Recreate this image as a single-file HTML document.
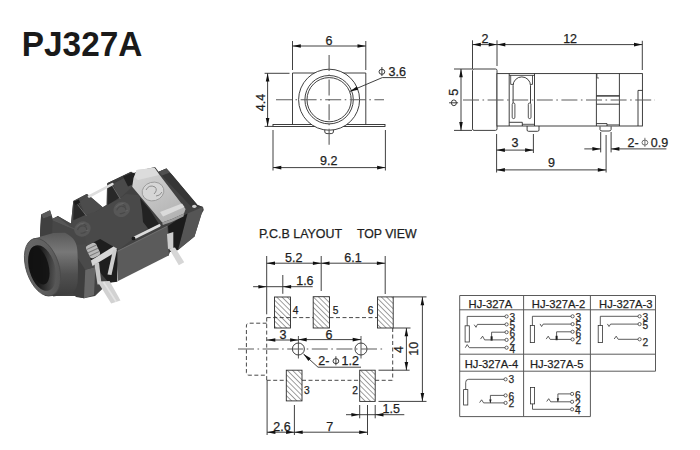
<!DOCTYPE html>
<html><head><meta charset="utf-8"><style>
html,body{margin:0;padding:0;background:#fff;}
body{width:700px;height:450px;overflow:hidden;}
svg{display:block;font-family:"Liberation Sans",sans-serif;}
</style></head><body>
<svg width="700" height="450" viewBox="0 0 700 450">
<defs>
<pattern id="hatch" patternUnits="userSpaceOnUse" width="3.7" height="3.7" patternTransform="rotate(-45)">
<line x1="0" y1="0" x2="0" y2="3.7" stroke="#2a2a2a" stroke-width="0.9"/>
</pattern>
<linearGradient id="metal" x1="0" y1="0" x2="0.6" y2="1"><stop offset="0" stop-color="#d6d6d6"/><stop offset="0.55" stop-color="#c4c4c4"/><stop offset="1" stop-color="#b4b4b4"/></linearGradient>
<linearGradient id="cyl" x1="0" y1="0" x2="0" y2="1"><stop offset="0" stop-color="#5a5a5a"/><stop offset="0.3" stop-color="#787878"/><stop offset="0.65" stop-color="#505050"/><stop offset="1" stop-color="#3c3c3c"/></linearGradient>
<linearGradient id="hole" x1="0" y1="0.2" x2="1" y2="0.8"><stop offset="0" stop-color="#0e0e0e"/><stop offset="0.4" stop-color="#181818"/><stop offset="0.75" stop-color="#404040"/><stop offset="1" stop-color="#606060"/></linearGradient>
<linearGradient id="rim" x1="0" y1="0" x2="1" y2="1"><stop offset="0" stop-color="#6a6a6a"/><stop offset="0.6" stop-color="#5e5e5e"/><stop offset="1" stop-color="#4e4e4e"/></linearGradient>
</defs>
<rect width="700" height="450" fill="#fff"/>
<polygon points="41.1,214.4 50.0,210.3 51.7,215.6 52.2,219.4 57.8,216.1 69.0,222.5 71.0,223.5 73.3,201.0 86.7,194.0 88.4,195.0 102.7,207.3 106.5,205.0 107.1,183.3 131.1,171.8 133.0,173.5 138.0,171.0 155.0,167.0 158.7,171.7 166.4,168.6 172.7,175.6 197.5,205.1 203.0,207.0 203.8,210.0 201.5,214.0 194.5,236.5 178.0,250.0 170.0,252.0 168.6,255.6 118.1,262.0 116.2,281.2 108.8,282.7 95.0,296.0 84.0,298.3 75.0,296.0 45.0,296.0 40.0,236.0" fill="#424242" />
<polygon points="52.2,219.4 57.8,216.1 69.0,222.5 71.0,223.5 75.1,219.8 83.1,212.7 95.0,212.0 102.7,207.3 106.5,205.0 107.1,204.7 118.7,199.3 126.0,194.0 138.3,195.0 148.4,213.8 145.5,216.0 149.9,223.2 150.0,226.0 116.7,251.3 101.0,244.0 92.0,246.0 86.0,250.0 70.0,247.0 60.0,238.0 52.0,232.0" fill="#494949" />
<polygon points="41.6,215.0 52.2,219.4 69.5,227.5 84.0,233.0 86.5,244.0 69.3,245.0 60.0,240.0 40.0,236.0" fill="#474747" />
<polygon points="52.7,218.3 57.7,216.7 69.3,226.1 69.5,227.5 52.2,219.4" fill="#565656" />
<line x1="42" y1="215.3" x2="84" y2="233" stroke="#585858" stroke-width="1.2"/>
<polygon points="41.1,214.4 50.0,210.3 51.7,215.6 43.3,218.6" fill="#5a5a5a" />
<polygon points="41.1,214.4 43.3,218.6 51.7,215.6 52.7,218.3 52.0,236.0 40.0,236.0" fill="#404040" />
<polygon points="73.3,201.0 86.7,194.0 88.4,195.0 79.5,201.5" fill="#4a4a4a" />
<polygon points="73.3,201.0 79.5,201.5 83.1,212.7 75.1,219.8 71.0,223.5" fill="#4a4a4a" />
<polygon points="79.5,201.5 88.4,195.0 102.7,207.3 95.0,212.0 85.3,215.0" fill="#4c4c4c" />
<polygon points="73.8,201.5 78.0,202.5 85.3,215.0 73.3,220.3" fill="#282828" />
<polygon points="73.9,201.6 78.8,199.6 80.2,202.6 75.2,205.0" fill="#1a1a1a" />
<line x1="77.6" y1="204.5" x2="86.5" y2="216" stroke="#686868" stroke-width="1"/>
<polygon points="107.1,183.3 131.1,171.8 133.0,173.5 113.0,184.0" fill="#3c3c3c" />
<polygon points="113.0,184.0 133.0,173.5 136.0,176.0 131.0,188.0 118.7,199.3" fill="#4a4a4a" />
<polygon points="108.3,184.5 113.0,185.2 119.3,197.7 107.6,205.0" fill="#282828" />
<line x1="112.5" y1="186" x2="120.3" y2="199" stroke="#686868" stroke-width="1"/>
<polygon points="123.0,176.5 133.0,172.5 137.0,175.5 136.0,183.0 128.0,186.5" fill="#222222" />
<ellipse cx="82.5" cy="229" rx="8.5" ry="7.5" fill="#575757" transform="rotate(-25 82.5 229)"/>
<path d="M77.5,230 q2,-5 6,-4 q4,1 3,5 M80.5,233 q3,1 6,-2 M83.5,224 l3,2" fill="none" stroke="#494949" stroke-width="1.1"/>
<path d="M76.5,227 q3,-4 8,-4 M85.5,231 l3,-1" fill="none" stroke="#666" stroke-width="0.9"/>
<ellipse cx="121.7" cy="209.4" rx="8.5" ry="7.5" fill="#575757" transform="rotate(-25 121.7 209.4)"/>
<path d="M116.7,210.4 q2,-5 6,-4 q4,1 3,5 M119.7,213.4 q3,1 6,-2 M122.7,204.4 l3,2" fill="none" stroke="#494949" stroke-width="1.1"/>
<path d="M115.7,207.4 q3,-4 8,-4 M124.7,211.4 l3,-1" fill="none" stroke="#666" stroke-width="0.9"/>
<polygon points="116.7,251.3 150.0,236.0 167.2,226.0 168.6,255.6 118.1,262.0 116.5,262.0" fill="#5b5b5b" />
<polygon points="116.7,251.3 167.2,226.0 168.6,255.6 118.1,281.0" fill="#5b5b5b" />
<line x1="117" y1="251.5" x2="167.2" y2="226.3" stroke="#6e6e6e" stroke-width="1"/>
<polygon points="158.7,171.7 166.4,168.6 172.7,175.6 197.5,205.1 203.0,207.0 191.3,206.7 164.9,178.7" fill="#363636" />
<polygon points="158.7,171.7 166.4,168.6 170.0,172.5 162.0,175.5" fill="#505050" />
<polygon points="187.5,213.5 203.0,207.0 201.5,214.0 194.5,236.5 178.0,250.0" fill="#555555" />
<polygon points="168.0,226.0 181.0,217.0 187.5,213.5 178.0,250.0 170.0,252.0" fill="#1b1b1b" />
<ellipse cx="194.3" cy="206.3" rx="2.2" ry="1.6" fill="#cfcfcf"/>
<polygon points="140.0,198.0 150.0,210.0 160.5,226.5 150.0,231.0 143.0,222.0 142.0,210.0" fill="#222222" />
<polygon points="136.7,170.0 154.4,167.8 157.0,171.5 185.6,209.0 184.0,213.5 172.0,219.0 162.2,222.5 132.2,186.7 133.5,178.0" fill="url(#metal)" />
<polygon points="136.7,170.0 154.4,167.8 157.0,171.5 159.0,175.0 138.0,180.0 134.5,177.0" fill="#dcdcdc" />
<ellipse cx="153" cy="191.5" rx="11" ry="9.3" fill="#d6d6d6" stroke="#9a9a9a" stroke-width="0.9" transform="rotate(-15 153 191.5)"/>
<path d="M146,190 q3,-6 9,-3 q3,3 -1,7 M156,196 q4,0 6,-4" fill="none" stroke="#8e8e8e" stroke-width="1"/>
<polygon points="162.2,222.5 172.0,219.0 184.0,213.5 183.5,216.5 171.5,222.0 162.8,225.0" fill="#9c9c9c" />
<polygon points="160.0,212.0 182.0,203.5 184.5,207.0 163.0,216.5" fill="#dadada" />
<line x1="89" y1="196.5" x2="112.4" y2="184.2" stroke="#dedede" stroke-width="2.6" stroke-linecap="round"/>
<line x1="134" y1="238" x2="159.3" y2="225.5" stroke="#dcdcdc" stroke-width="2.7" stroke-linecap="round"/>
<circle cx="133.5" cy="238.4" r="1.9" fill="#1a1a1a"/>
<polygon points="69.3,245.0 85.3,269.7 84.0,298.3 76.0,297.0 72.0,292.0" fill="#3e3e3e" />
<polygon points="85.3,269.7 95.3,267.0 94.0,295.0 84.0,298.3" fill="#676767" />
<polygon points="69.3,245.0 86.5,244.0 95.3,267.0 85.3,269.7" fill="#4a4a4a" />
<polygon points="86.2,245.9 100.2,238.9 117.4,249.0 117.4,281.7 108.8,282.7 95.3,267.0 91.0,260.3" fill="#1e1e1e" />
<g transform="rotate(-25 93 250.5)"><rect x="87.5" y="243.5" width="11" height="14" rx="3" fill="#b9b9b9"/><path d="M87.5,247 h11 M87.5,250.5 h11 M87.5,254 h11" stroke="#7a7a7a" stroke-width="1"/></g>
<polygon points="90.9,260.5 113.5,246.5 117.0,248.5 115.0,252.5 92.5,266.0" fill="#d6d6d6" />
<polygon points="113.0,250.0 117.0,249.5 111.5,275.0 107.5,274.5" fill="#cdcdcd" />
<polygon points="94.3,263.5 99.0,262.5 101.5,284.0 97.5,284.5" fill="#c6c6c6" />
<polygon points="97.5,281.5 109.6,281.0 120.5,300.4 111.2,303.5" fill="#d2d2d2" />
<line x1="103.5" y1="282" x2="116.2" y2="301.8" stroke="#e4e4e4" stroke-width="1.6"/>
<polygon points="167.0,234.0 173.3,232.0 173.3,248.0 168.0,249.0" fill="#cccccc" />
<polygon points="169.0,248.5 175.0,247.5 184.2,262.2 178.8,265.3" fill="#d6d6d6" />
<path d="M33.3,238.8 L53.3,233 L65,232.8 C71,236 76.7,240 77.3,250 C78.2,262 78,276 77.5,283 C76.5,289 74,292 71.7,293.5 L53.3,296.6 Z" fill="url(#cyl)"/>
<ellipse cx="42.5" cy="267.2" rx="16.4" ry="29.8" fill="url(#rim)" stroke="#4a4a4a" stroke-width="0.8" transform="rotate(-18 42.5 267.2)"/>
<ellipse cx="42.1" cy="268" rx="12.9" ry="23.4" fill="url(#hole)" transform="rotate(-16 42.1 268)"/>
<ellipse cx="39.2" cy="265.5" rx="9.2" ry="19.5" fill="#121212" opacity="0.9" transform="rotate(-16 39.2 265.5)"/>
<text x="0" y="0" font-size="35.5" text-anchor="start" fill="#1a1a1a" font-weight="bold" transform="translate(21.8,55.6) scale(0.94,1)">PJ327A</text>
<line x1="292.5" y1="41" x2="292.5" y2="70" stroke="#2b2b2b" stroke-width="0.9" />
<line x1="365.8" y1="41" x2="365.8" y2="70" stroke="#2b2b2b" stroke-width="0.9" />
<line x1="292.5" y1="46" x2="365.8" y2="46" stroke="#2b2b2b" stroke-width="0.9" />
<polygon points="292.5,46.0 300.8,44.2 300.8,47.8" fill="#111" stroke="none" stroke-width="0.8" />
<polygon points="365.8,46.0 357.5,47.8 357.5,44.2" fill="#111" stroke="none" stroke-width="0.8" />
<text x="329.1" y="44.7" font-size="12.5" text-anchor="middle" fill="#1e1e1e" font-weight="normal" stroke="#1e1e1e" stroke-width="0.25" >6</text>
<polyline points="292.5,124.5 292.5,73 365.8,73 365.8,124.5" stroke="#2b2b2b" stroke-width="0.9" fill="none" />
<rect x="273" y="124.5" width="112" height="2" fill="none" stroke="#2b2b2b" stroke-width="0.9"/>
<circle cx="329.1" cy="99.7" r="30.5" fill="#fff" stroke="#2b2b2b" stroke-width="0.9"/>
<circle cx="329.1" cy="99.7" r="24.2" fill="none" stroke="#2b2b2b" stroke-width="0.9"/>
<circle cx="329.1" cy="99.7" r="22.1" fill="none" stroke="#2b2b2b" stroke-width="0.9"/>
<path d="M324.8,130 L324.8,132 Q325,133.6 327,133.6 L331.2,133.6 Q333.2,133.6 333.4,132 L333.4,130" fill="none" stroke="#2b2b2b" stroke-width="0.9"/>
<line x1="276" y1="99.7" x2="384" y2="99.7" stroke="#5c5c5c" stroke-width="1.1" stroke-dasharray="16 3.5 1.6 3.5"/>
<line x1="329.1" y1="55" x2="329.1" y2="146" stroke="#5c5c5c" stroke-width="1.1" stroke-dasharray="16 3.5 1.6 3.5"/>
<line x1="264.6" y1="73.3" x2="289.5" y2="73.3" stroke="#2b2b2b" stroke-width="0.9" />
<line x1="264.6" y1="126.4" x2="273" y2="126.4" stroke="#2b2b2b" stroke-width="0.9" />
<line x1="267.6" y1="73.3" x2="267.6" y2="126.4" stroke="#2b2b2b" stroke-width="0.9" />
<polygon points="267.6,73.3 269.4,81.6 265.8,81.6" fill="#111" stroke="none" stroke-width="0.8" />
<polygon points="267.6,126.4 265.8,118.1 269.4,118.1" fill="#111" stroke="none" stroke-width="0.8" />
<text x="0" y="0" font-size="12.5" text-anchor="middle" fill="#1e1e1e" font-weight="normal" stroke="#1e1e1e" stroke-width="0.25" transform="translate(264.6,102.45) rotate(-90)">4.4</text>
<line x1="273" y1="130" x2="273" y2="170.5" stroke="#2b2b2b" stroke-width="0.9" />
<line x1="385.4" y1="130" x2="385.4" y2="170.5" stroke="#2b2b2b" stroke-width="0.9" />
<line x1="273" y1="167.6" x2="385.4" y2="167.6" stroke="#2b2b2b" stroke-width="0.9" />
<polygon points="273.0,167.6 281.3,165.8 281.3,169.4" fill="#111" stroke="none" stroke-width="0.8" />
<polygon points="385.4,167.6 377.1,169.4 377.1,165.8" fill="#111" stroke="none" stroke-width="0.8" />
<text x="328.8" y="165" font-size="12.5" text-anchor="middle" fill="#1e1e1e" font-weight="normal" stroke="#1e1e1e" stroke-width="0.25" >9.2</text>
<line x1="349.8" y1="91.4" x2="382.3" y2="77.6" stroke="#2b2b2b" stroke-width="0.9" />
<line x1="382.3" y1="77.6" x2="406" y2="77.6" stroke="#2b2b2b" stroke-width="0.9" />
<polygon points="349.8,91.4 356.7,86.5 358.1,89.8" fill="#111" stroke="none" stroke-width="0.8" />
<ellipse cx="381.90" cy="71.80" rx="2.9" ry="2.5" fill="none" stroke="#333" stroke-width="0.95"/>
<line x1="381.90" y1="67.00" x2="381.90" y2="76.00" stroke="#333" stroke-width="0.95"/>
<text x="388.5" y="75.7" font-size="12.5" text-anchor="start" fill="#1e1e1e" font-weight="normal" stroke="#1e1e1e" stroke-width="0.25" >3.6</text>
<line x1="472.5" y1="40.3" x2="472.5" y2="69" stroke="#2b2b2b" stroke-width="0.9" />
<line x1="497" y1="40.3" x2="497" y2="66" stroke="#2b2b2b" stroke-width="0.9" />
<line x1="642.3" y1="40.8" x2="642.3" y2="70" stroke="#2b2b2b" stroke-width="0.9" />
<line x1="472.5" y1="44.6" x2="642.3" y2="44.6" stroke="#2b2b2b" stroke-width="0.9" />
<polygon points="472.5,44.6 480.8,42.8 480.8,46.4" fill="#111" stroke="none" stroke-width="0.8" />
<polygon points="497.0,44.6 488.7,46.4 488.7,42.8" fill="#111" stroke="none" stroke-width="0.8" />
<polygon points="497.0,44.6 505.3,42.8 505.3,46.4" fill="#111" stroke="none" stroke-width="0.8" />
<polygon points="642.3,44.6 634.0,46.4 634.0,42.8" fill="#111" stroke="none" stroke-width="0.8" />
<text x="485" y="42.5" font-size="12.5" text-anchor="middle" fill="#1e1e1e" font-weight="normal" stroke="#1e1e1e" stroke-width="0.25" >2</text>
<text x="570.1" y="43.2" font-size="12.5" text-anchor="middle" fill="#1e1e1e" font-weight="normal" stroke="#1e1e1e" stroke-width="0.25" >12</text>
<rect x="472.5" y="69" width="24.5" height="61.4" rx="1.5" fill="#fff" stroke="#2b2b2b" stroke-width="0.9"/>
<rect x="497" y="73.6" width="145.4" height="52.4" fill="#fff" stroke="#2b2b2b" stroke-width="0.9"/>
<line x1="509.2" y1="73.6" x2="509.2" y2="126" stroke="#2b2b2b" stroke-width="0.9" />
<line x1="534.5" y1="73.6" x2="534.5" y2="126" stroke="#2b2b2b" stroke-width="0.9" />
<line x1="509.2" y1="75.4" x2="534.5" y2="75.4" stroke="#2b2b2b" stroke-width="0.8" />
<polyline points="510.7,75.4 510.7,84.4 513.1,84.4" stroke="#2b2b2b" stroke-width="0.8" fill="none" />
<polyline points="532.5,75.4 532.5,84.4 530.5,84.4" stroke="#2b2b2b" stroke-width="0.8" fill="none" />
<path d="M513.1,103 L513.1,85.6 A8.7,8.7 0 0 1 530.5,85.6 L530.5,103" fill="none" stroke="#2b2b2b" stroke-width="0.9"/>
<rect x="512.2" y="103" width="2.7" height="15.6" rx="1.35" fill="#fff" stroke="#2b2b2b" stroke-width="0.8"/>
<rect x="528.3" y="103" width="2.7" height="15.6" rx="1.35" fill="#fff" stroke="#2b2b2b" stroke-width="0.8"/>
<polyline points="509.2,122.3 522.3,122.3 522.3,126" stroke="#2b2b2b" stroke-width="0.9" fill="none" />
<line x1="522.3" y1="124.3" x2="534.5" y2="124.3" stroke="#2b2b2b" stroke-width="0.8" />
<path d="M527.1,126 L527.1,130 Q527.1,131.3 528.5,131.3 L537.6,131.3 Q539,131.3 539,130 L539,126" fill="none" stroke="#2b2b2b" stroke-width="0.9"/>
<line x1="596.4" y1="73.6" x2="596.4" y2="126" stroke="#2b2b2b" stroke-width="0.9" />
<line x1="619.4" y1="73.6" x2="619.4" y2="126" stroke="#2b2b2b" stroke-width="0.9" />
<polyline points="597,74 597,78 599,78" stroke="#2b2b2b" stroke-width="0.7" fill="none" />
<line x1="596.4" y1="95.9" x2="619.4" y2="95.9" stroke="#2b2b2b" stroke-width="1.4" />
<line x1="596.4" y1="104.2" x2="619.4" y2="104.2" stroke="#2b2b2b" stroke-width="0.9" />
<polyline points="596.4,123.6 607,123.6 607,126" stroke="#2b2b2b" stroke-width="0.9" fill="none" />
<line x1="607" y1="124.8" x2="619.4" y2="124.8" stroke="#2b2b2b" stroke-width="0.7" />
<polyline points="642.4,90.4 638,90.4 638,126" stroke="#2b2b2b" stroke-width="0.9" fill="none" />
<path d="M600,126.4 L600,129.5 Q600.2,131 602,131 L609,131 Q610.9,131 611.1,129.5 L611.1,126.4" fill="none" stroke="#2b2b2b" stroke-width="0.9"/>
<line x1="463" y1="100" x2="655" y2="100" stroke="#5c5c5c" stroke-width="1.1" stroke-dasharray="16 3.5 1.6 3.5"/>
<line x1="454" y1="69" x2="472" y2="69" stroke="#2b2b2b" stroke-width="0.9" />
<line x1="454" y1="130.4" x2="472" y2="130.4" stroke="#2b2b2b" stroke-width="0.9" />
<line x1="461" y1="69" x2="461" y2="130.4" stroke="#2b2b2b" stroke-width="0.9" />
<polygon points="461.0,69.0 462.8,77.3 459.2,77.3" fill="#111" stroke="none" stroke-width="0.8" />
<polygon points="461.0,130.4 459.2,122.1 462.8,122.1" fill="#111" stroke="none" stroke-width="0.8" />
<g transform="translate(457.8,106) rotate(-90)">
<ellipse cx="3.20" cy="-3.90" rx="2.9" ry="2.5" fill="none" stroke="#333" stroke-width="0.95"/>
<line x1="3.20" y1="-8.70" x2="3.20" y2="0.30" stroke="#333" stroke-width="0.95"/>
<text x="10.3" y="0" font-size="12.5" text-anchor="start" fill="#1e1e1e" font-weight="normal" stroke="#1e1e1e" stroke-width="0.25" >5</text>
</g>
<line x1="496.6" y1="134" x2="496.6" y2="172.5" stroke="#2b2b2b" stroke-width="0.9" />
<line x1="533.4" y1="134" x2="533.4" y2="153" stroke="#2b2b2b" stroke-width="0.9" />
<line x1="496.6" y1="150.1" x2="533.4" y2="150.1" stroke="#2b2b2b" stroke-width="0.9" />
<polygon points="496.6,150.1 504.9,148.3 504.9,151.9" fill="#111" stroke="none" stroke-width="0.8" />
<polygon points="533.4,150.1 525.1,151.9 525.1,148.3" fill="#111" stroke="none" stroke-width="0.8" />
<text x="514.9" y="147.3" font-size="12.5" text-anchor="middle" fill="#1e1e1e" font-weight="normal" stroke="#1e1e1e" stroke-width="0.25" >3</text>
<line x1="606.1" y1="135" x2="606.1" y2="172.5" stroke="#2b2b2b" stroke-width="0.9" />
<line x1="496.6" y1="169.9" x2="606.1" y2="169.9" stroke="#2b2b2b" stroke-width="0.9" />
<polygon points="496.6,169.9 504.9,168.1 504.9,171.7" fill="#111" stroke="none" stroke-width="0.8" />
<polygon points="606.1,169.9 597.8,171.7 597.8,168.1" fill="#111" stroke="none" stroke-width="0.8" />
<text x="551.4" y="167.3" font-size="12.5" text-anchor="middle" fill="#1e1e1e" font-weight="normal" stroke="#1e1e1e" stroke-width="0.25" >9</text>
<line x1="600.7" y1="132" x2="600.7" y2="152.4" stroke="#2b2b2b" stroke-width="0.9" />
<line x1="611.1" y1="132" x2="611.1" y2="152.4" stroke="#2b2b2b" stroke-width="0.9" />
<line x1="584.3" y1="148.9" x2="600.7" y2="148.9" stroke="#2b2b2b" stroke-width="0.9" />
<polygon points="600.7,148.9 592.4,150.7 592.4,147.1" fill="#111" stroke="none" stroke-width="0.8" />
<line x1="611.1" y1="148.9" x2="666.4" y2="148.9" stroke="#2b2b2b" stroke-width="0.9" />
<polygon points="611.1,148.9 619.4,147.1 619.4,150.7" fill="#111" stroke="none" stroke-width="0.8" />
<text x="627.5" y="146.5" font-size="12.5" text-anchor="start" fill="#1e1e1e" font-weight="normal" stroke="#1e1e1e" stroke-width="0.25" >2-</text>
<ellipse cx="644.90" cy="142.60" rx="2.9" ry="2.5" fill="none" stroke="#666" stroke-width="0.95"/>
<line x1="644.90" y1="137.80" x2="644.90" y2="146.80" stroke="#666" stroke-width="0.95"/>
<text x="650.8" y="146.5" font-size="12.5" text-anchor="start" fill="#1e1e1e" font-weight="normal" stroke="#1e1e1e" stroke-width="0.25" >0.9</text>
<text x="258.9" y="238" font-size="12.45" text-anchor="start" fill="#1e1e1e" font-weight="normal" stroke="#1e1e1e" stroke-width="0.25" >P.C.B LAYOUT</text>
<text x="356.9" y="238" font-size="12.3" text-anchor="start" fill="#1e1e1e" font-weight="normal" stroke="#1e1e1e" stroke-width="0.25" >TOP VIEW</text>
<line x1="266.7" y1="256" x2="266.7" y2="314.3" stroke="#2b2b2b" stroke-width="0.9" />
<line x1="321.2" y1="256" x2="321.2" y2="291" stroke="#2b2b2b" stroke-width="0.9" />
<line x1="385.2" y1="256" x2="385.2" y2="294" stroke="#2b2b2b" stroke-width="0.9" />
<line x1="266.7" y1="263.2" x2="385.2" y2="263.2" stroke="#2b2b2b" stroke-width="0.9" />
<polygon points="266.7,263.2 275.0,261.4 275.0,265.0" fill="#111" stroke="none" stroke-width="0.8" />
<polygon points="321.2,263.2 312.9,265.0 312.9,261.4" fill="#111" stroke="none" stroke-width="0.8" />
<polygon points="321.2,263.2 329.5,261.4 329.5,265.0" fill="#111" stroke="none" stroke-width="0.8" />
<polygon points="385.2,263.2 376.9,265.0 376.9,261.4" fill="#111" stroke="none" stroke-width="0.8" />
<text x="293.7" y="261.9" font-size="12.5" text-anchor="middle" fill="#1e1e1e" font-weight="normal" stroke="#1e1e1e" stroke-width="0.25" >5.2</text>
<text x="352.9" y="261.9" font-size="12.5" text-anchor="middle" fill="#1e1e1e" font-weight="normal" stroke="#1e1e1e" stroke-width="0.25" >6.1</text>
<line x1="253.1" y1="286.7" x2="312.7" y2="286.7" stroke="#2b2b2b" stroke-width="0.9" />
<line x1="282.8" y1="275" x2="282.8" y2="293.8" stroke="#2b2b2b" stroke-width="0.9" />
<polygon points="266.7,286.7 258.4,288.5 258.4,284.9" fill="#111" stroke="none" stroke-width="0.8" />
<polygon points="282.8,286.7 291.1,284.9 291.1,288.5" fill="#111" stroke="none" stroke-width="0.8" />
<text x="296.2" y="284.6" font-size="12.5" text-anchor="start" fill="#1e1e1e" font-weight="normal" stroke="#1e1e1e" stroke-width="0.25" >1.6</text>
<rect x="274.5" y="297" width="16.0" height="31.0" fill="url(#hatch)" stroke="#2b2b2b" stroke-width="0.9"/>
<rect x="313.2" y="296.7" width="16.3" height="31.3" fill="url(#hatch)" stroke="#2b2b2b" stroke-width="0.9"/>
<rect x="377.5" y="296.9" width="15.7" height="31.1" fill="url(#hatch)" stroke="#2b2b2b" stroke-width="0.9"/>
<rect x="286.3" y="370.2" width="15.7" height="30.7" fill="url(#hatch)" stroke="#2b2b2b" stroke-width="0.9"/>
<rect x="359.7" y="370.2" width="15.5" height="31.2" fill="url(#hatch)" stroke="#2b2b2b" stroke-width="0.9"/>
<text x="292.7" y="313.9" font-size="10.2" text-anchor="start" fill="#1e1e1e" font-weight="normal" stroke="#1e1e1e" stroke-width="0.25" >4</text>
<text x="332.7" y="313.9" font-size="10.2" text-anchor="start" fill="#1e1e1e" font-weight="normal" stroke="#1e1e1e" stroke-width="0.25" >5</text>
<text x="373.5" y="313.9" font-size="10.2" text-anchor="end" fill="#1e1e1e" font-weight="normal" stroke="#1e1e1e" stroke-width="0.25" >6</text>
<text x="304" y="393.6" font-size="10.2" text-anchor="start" fill="#1e1e1e" font-weight="normal" stroke="#1e1e1e" stroke-width="0.25" >3</text>
<text x="357.8" y="393.6" font-size="10.2" text-anchor="end" fill="#1e1e1e" font-weight="normal" stroke="#1e1e1e" stroke-width="0.25" >2</text>
<line x1="266.7" y1="317.6" x2="313.2" y2="317.6" stroke="#333" stroke-width="0.9" stroke-dasharray="4 2.5"/>
<line x1="329.5" y1="317.6" x2="377.5" y2="317.6" stroke="#333" stroke-width="0.9" stroke-dasharray="4 2.5"/>
<line x1="266.7" y1="317.6" x2="266.7" y2="380.3" stroke="#333" stroke-width="0.9" stroke-dasharray="4 2.5"/>
<path d="M266.7,323.2 L249,323.2 Q246.4,323.2 246.4,326 L246.4,372.5 Q246.4,375.2 249,375.2 L266.7,375.2" fill="none" stroke="#333" stroke-width="0.9" stroke-dasharray="4 2.5"/>
<line x1="266.7" y1="380.3" x2="287" y2="380.3" stroke="#333" stroke-width="0.9" stroke-dasharray="4 2.5"/>
<line x1="302" y1="380.3" x2="359.7" y2="380.3" stroke="#333" stroke-width="0.9" stroke-dasharray="4 2.5"/>
<line x1="375.2" y1="380.3" x2="392.7" y2="380.3" stroke="#333" stroke-width="0.9" stroke-dasharray="4 2.5"/>
<line x1="392.7" y1="328" x2="392.7" y2="380.3" stroke="#333" stroke-width="0.9" stroke-dasharray="4 2.5"/>
<circle cx="298.4" cy="349" r="6" fill="none" stroke="#2b2b2b" stroke-width="0.9"/>
<line x1="298.4" y1="336" x2="298.4" y2="358.5" stroke="#2b2b2b" stroke-width="0.8" />
<circle cx="361" cy="349" r="6" fill="none" stroke="#2b2b2b" stroke-width="0.9"/>
<line x1="361" y1="336" x2="361" y2="358.5" stroke="#2b2b2b" stroke-width="0.8" />
<line x1="238" y1="349" x2="385" y2="349" stroke="#5c5c5c" stroke-width="1.1" stroke-dasharray="16 3.5 1.6 3.5"/>
<line x1="267" y1="340" x2="298.4" y2="340" stroke="#2b2b2b" stroke-width="0.9" />
<polygon points="267.0,340.0 275.3,338.2 275.3,341.8" fill="#111" stroke="none" stroke-width="0.8" />
<polygon points="298.4,340.0 290.1,341.8 290.1,338.2" fill="#111" stroke="none" stroke-width="0.8" />
<text x="282.9" y="339.2" font-size="12.5" text-anchor="middle" fill="#1e1e1e" font-weight="normal" stroke="#1e1e1e" stroke-width="0.25" >3</text>
<line x1="298.4" y1="339.6" x2="361" y2="339.6" stroke="#2b2b2b" stroke-width="0.9" />
<polygon points="298.4,339.6 306.7,337.8 306.7,341.4" fill="#111" stroke="none" stroke-width="0.8" />
<polygon points="361.0,339.6 352.7,341.4 352.7,337.8" fill="#111" stroke="none" stroke-width="0.8" />
<text x="329" y="339" font-size="12.5" text-anchor="middle" fill="#1e1e1e" font-weight="normal" stroke="#1e1e1e" stroke-width="0.25" >6</text>
<line x1="303.5" y1="354" x2="318" y2="367.2" stroke="#2b2b2b" stroke-width="0.9" />
<line x1="318" y1="367.2" x2="361" y2="367.2" stroke="#2b2b2b" stroke-width="0.9" />
<polygon points="303.5,354.0 310.8,358.3 308.4,360.9" fill="#111" stroke="none" stroke-width="0.8" />
<text x="318.2" y="365" font-size="12.5" text-anchor="start" fill="#1e1e1e" font-weight="normal" stroke="#1e1e1e" stroke-width="0.25" >2-</text>
<ellipse cx="335.90" cy="361.10" rx="2.9" ry="2.5" fill="none" stroke="#333" stroke-width="0.95"/>
<line x1="335.90" y1="356.30" x2="335.90" y2="365.30" stroke="#333" stroke-width="0.95"/>
<text x="341.5" y="365" font-size="12.5" text-anchor="start" fill="#1e1e1e" font-weight="normal" stroke="#1e1e1e" stroke-width="0.25" >1.2</text>
<line x1="393.2" y1="296.9" x2="426.5" y2="296.9" stroke="#2b2b2b" stroke-width="0.9" />
<line x1="393.2" y1="328" x2="410.5" y2="328" stroke="#2b2b2b" stroke-width="0.9" />
<line x1="378.5" y1="370.2" x2="409.6" y2="370.2" stroke="#2b2b2b" stroke-width="0.9" />
<line x1="378.5" y1="401.4" x2="426.5" y2="401.4" stroke="#2b2b2b" stroke-width="0.9" />
<line x1="406.4" y1="328" x2="406.4" y2="370.2" stroke="#2b2b2b" stroke-width="0.9" />
<polygon points="406.4,328.0 408.2,336.3 404.6,336.3" fill="#111" stroke="none" stroke-width="0.8" />
<polygon points="406.4,370.2 404.6,361.9 408.2,361.9" fill="#111" stroke="none" stroke-width="0.8" />
<line x1="422.4" y1="296.9" x2="422.4" y2="401.4" stroke="#2b2b2b" stroke-width="0.9" />
<polygon points="422.4,296.9 424.2,305.2 420.6,305.2" fill="#111" stroke="none" stroke-width="0.8" />
<polygon points="422.4,401.4 420.6,393.1 424.2,393.1" fill="#111" stroke="none" stroke-width="0.8" />
<text x="0" y="0" font-size="12.5" text-anchor="middle" fill="#1e1e1e" font-weight="normal" stroke="#1e1e1e" stroke-width="0.25" transform="translate(403,349.5) rotate(-90)">4</text>
<text x="0" y="0" font-size="12.5" text-anchor="middle" fill="#1e1e1e" font-weight="normal" stroke="#1e1e1e" stroke-width="0.25" transform="translate(418.4,348.8) rotate(-90)">10</text>
<line x1="359.7" y1="405" x2="359.7" y2="418.3" stroke="#2b2b2b" stroke-width="0.9" />
<line x1="375.2" y1="405" x2="375.2" y2="418.3" stroke="#2b2b2b" stroke-width="0.9" />
<line x1="367.5" y1="405" x2="367.5" y2="435" stroke="#2b2b2b" stroke-width="0.9" />
<line x1="346" y1="414.7" x2="404.3" y2="414.7" stroke="#2b2b2b" stroke-width="0.9" />
<polygon points="359.7,414.7 351.4,416.5 351.4,412.9" fill="#111" stroke="none" stroke-width="0.8" />
<polygon points="375.2,414.7 383.5,412.9 383.5,416.5" fill="#111" stroke="none" stroke-width="0.8" />
<text x="382.5" y="412.7" font-size="12.5" text-anchor="start" fill="#1e1e1e" font-weight="normal" stroke="#1e1e1e" stroke-width="0.25" >1.5</text>
<line x1="267.1" y1="380.5" x2="267.1" y2="435" stroke="#2b2b2b" stroke-width="0.9" />
<line x1="294.4" y1="405" x2="294.4" y2="435" stroke="#2b2b2b" stroke-width="0.9" />
<line x1="267.1" y1="432.2" x2="367.5" y2="432.2" stroke="#2b2b2b" stroke-width="0.9" />
<polygon points="267.1,432.2 275.4,430.4 275.4,434.0" fill="#111" stroke="none" stroke-width="0.8" />
<polygon points="294.4,432.2 286.1,434.0 286.1,430.4" fill="#111" stroke="none" stroke-width="0.8" />
<polygon points="294.4,432.2 302.7,430.4 302.7,434.0" fill="#111" stroke="none" stroke-width="0.8" />
<polygon points="367.5,432.2 359.2,434.0 359.2,430.4" fill="#111" stroke="none" stroke-width="0.8" />
<text x="281.9" y="430.7" font-size="12.5" text-anchor="middle" fill="#1e1e1e" font-weight="normal" stroke="#1e1e1e" stroke-width="0.25" >2.6</text>
<text x="329.7" y="430.7" font-size="12.5" text-anchor="middle" fill="#1e1e1e" font-weight="normal" stroke="#1e1e1e" stroke-width="0.25" >7</text>
<line x1="459.7" y1="295.5" x2="655.5" y2="295.5" stroke="#5a5a5a" stroke-width="1" />
<line x1="459.7" y1="309.8" x2="655.5" y2="309.8" stroke="#5a5a5a" stroke-width="1" />
<line x1="459.7" y1="354.2" x2="655.5" y2="354.2" stroke="#5a5a5a" stroke-width="1" />
<line x1="459.7" y1="371.2" x2="655.5" y2="371.2" stroke="#5a5a5a" stroke-width="1" />
<line x1="459.7" y1="416.6" x2="590.4" y2="416.6" stroke="#5a5a5a" stroke-width="1" />
<line x1="459.7" y1="295.5" x2="459.7" y2="416.6" stroke="#5a5a5a" stroke-width="1" />
<line x1="523.6" y1="295.5" x2="523.6" y2="416.6" stroke="#5a5a5a" stroke-width="1" />
<line x1="590.4" y1="295.5" x2="590.4" y2="416.6" stroke="#5a5a5a" stroke-width="1" />
<line x1="655.5" y1="295.5" x2="655.5" y2="371.2" stroke="#5a5a5a" stroke-width="1" />
<text x="490.35" y="307.6" font-size="11.2" text-anchor="middle" fill="#1e1e1e" font-weight="normal" stroke="#1e1e1e" stroke-width="0.25" >HJ-327A</text>
<text x="558.6" y="307.6" font-size="11.2" text-anchor="middle" fill="#1e1e1e" font-weight="normal" stroke="#1e1e1e" stroke-width="0.25" >HJ-327A-2</text>
<text x="625.8" y="307.6" font-size="11.2" text-anchor="middle" fill="#1e1e1e" font-weight="normal" stroke="#1e1e1e" stroke-width="0.25" >HJ-327A-3</text>
<text x="491.45" y="367.9" font-size="11.2" text-anchor="middle" fill="#1e1e1e" font-weight="normal" stroke="#1e1e1e" stroke-width="0.25" >HJ-327A-4</text>
<text x="556.65" y="367.9" font-size="11.2" text-anchor="middle" fill="#1e1e1e" font-weight="normal" stroke="#1e1e1e" stroke-width="0.25" >HJ-327A-5</text>
<rect x="465.1" y="325.8" width="4.2" height="16.19999999999999" fill="#fff" stroke="#333" stroke-width="0.8"/>
<polyline points="467.2,325.8 467.2,316.4 505,316.4" stroke="#333" stroke-width="0.8" fill="none" />
<circle cx="506.6" cy="316.4" r="1.6" fill="#fff" stroke="#333" stroke-width="0.75"/>
<text x="509.5" y="321.2" font-size="10.2" text-anchor="start" fill="#2a2a2a" font-weight="normal" stroke="#2a2a2a" stroke-width="0.25" >3</text>
<polyline points="474.2,324.7 476,327.3 477.4,324.4 505,324.4" stroke="#333" stroke-width="0.8" fill="none" />
<circle cx="506.6" cy="324.4" r="1.6" fill="#fff" stroke="#333" stroke-width="0.75"/>
<text x="509.5" y="329.2" font-size="10.2" text-anchor="start" fill="#2a2a2a" font-weight="normal" stroke="#2a2a2a" stroke-width="0.25" >5</text>
<polyline points="505,332.2 491.6,332.2 491.6,339.9" stroke="#333" stroke-width="0.8" fill="none" />
<circle cx="506.6" cy="332.2" r="1.6" fill="#fff" stroke="#333" stroke-width="0.75"/>
<text x="509.5" y="337.0" font-size="10.2" text-anchor="start" fill="#2a2a2a" font-weight="normal" stroke="#2a2a2a" stroke-width="0.25" >6</text>
<line x1="491.6" y1="336.3" x2="491.6" y2="340.6" stroke="#1a1a1a" stroke-width="2" />
<polyline points="480.5,339.1 482.6,336.2 484.6,339.9 505,339.9" stroke="#333" stroke-width="0.8" fill="none" />
<circle cx="506.6" cy="339.9" r="1.6" fill="#fff" stroke="#333" stroke-width="0.75"/>
<text x="509.5" y="344.7" font-size="10.2" text-anchor="start" fill="#2a2a2a" font-weight="normal" stroke="#2a2a2a" stroke-width="0.25" >2</text>
<polyline points="465.3,347.7 467.2,344.6 469.3,347.7 505,347.7" stroke="#333" stroke-width="0.8" fill="none" />
<circle cx="506.6" cy="347.7" r="1.6" fill="#fff" stroke="#333" stroke-width="0.75"/>
<text x="509.5" y="352.5" font-size="10.2" text-anchor="start" fill="#2a2a2a" font-weight="normal" stroke="#2a2a2a" stroke-width="0.25" >4</text>
<rect x="530.3" y="325.4" width="4.2" height="17.200000000000045" fill="#fff" stroke="#333" stroke-width="0.8"/>
<polyline points="532.4,325.4 532.4,316.3 571,316.3" stroke="#333" stroke-width="0.8" fill="none" />
<circle cx="572.6" cy="316.3" r="1.6" fill="#fff" stroke="#333" stroke-width="0.75"/>
<text x="575.5" y="321.1" font-size="10.2" text-anchor="start" fill="#2a2a2a" font-weight="normal" stroke="#2a2a2a" stroke-width="0.25" >3</text>
<polyline points="540,323.9 541.6,326.5 543.2,324.1 571,324.1" stroke="#333" stroke-width="0.8" fill="none" />
<circle cx="572.6" cy="324.1" r="1.6" fill="#fff" stroke="#333" stroke-width="0.75"/>
<text x="575.5" y="328.90000000000003" font-size="10.2" text-anchor="start" fill="#2a2a2a" font-weight="normal" stroke="#2a2a2a" stroke-width="0.25" >5</text>
<polyline points="571,331.8 556.6,331.8 556.6,339.4" stroke="#333" stroke-width="0.8" fill="none" />
<circle cx="572.6" cy="331.8" r="1.6" fill="#fff" stroke="#333" stroke-width="0.75"/>
<text x="575.5" y="336.6" font-size="10.2" text-anchor="start" fill="#2a2a2a" font-weight="normal" stroke="#2a2a2a" stroke-width="0.25" >6</text>
<line x1="556.6" y1="335.8" x2="556.6" y2="340.2" stroke="#1a1a1a" stroke-width="2" />
<polyline points="546.2,339.1 548.2,336.2 550.2,339.4 571,339.4" stroke="#333" stroke-width="0.8" fill="none" />
<circle cx="572.6" cy="339.4" r="1.6" fill="#fff" stroke="#333" stroke-width="0.75"/>
<text x="575.5" y="344.2" font-size="10.2" text-anchor="start" fill="#2a2a2a" font-weight="normal" stroke="#2a2a2a" stroke-width="0.25" >2</text>
<rect x="598.2" y="325.4" width="4.2" height="17.200000000000045" fill="#fff" stroke="#333" stroke-width="0.8"/>
<polyline points="600.3,325.4 600.3,316.3 638,316.3" stroke="#333" stroke-width="0.8" fill="none" />
<circle cx="639.6" cy="316.3" r="1.6" fill="#fff" stroke="#333" stroke-width="0.75"/>
<text x="642.5" y="321.1" font-size="10.2" text-anchor="start" fill="#2a2a2a" font-weight="normal" stroke="#2a2a2a" stroke-width="0.25" >3</text>
<polyline points="607.4,323.9 609,326.5 610.6,324.1 638,324.1" stroke="#333" stroke-width="0.8" fill="none" />
<circle cx="639.6" cy="324.1" r="1.6" fill="#fff" stroke="#333" stroke-width="0.75"/>
<text x="642.5" y="328.90000000000003" font-size="10.2" text-anchor="start" fill="#2a2a2a" font-weight="normal" stroke="#2a2a2a" stroke-width="0.25" >5</text>
<polyline points="614.2,339 616.2,336.2 618.2,339.3 638,339.3" stroke="#333" stroke-width="0.8" fill="none" />
<circle cx="639.6" cy="339.3" r="1.6" fill="#fff" stroke="#333" stroke-width="0.75"/>
<text x="642.5" y="345.6" font-size="10.2" text-anchor="start" fill="#2a2a2a" font-weight="normal" stroke="#2a2a2a" stroke-width="0.25" >2</text>
<rect x="463.6" y="389.6" width="4.2" height="15.399999999999977" fill="#fff" stroke="#333" stroke-width="0.8"/>
<path d="M465.7,389.6 L465.7,382.3 Q465.7,379.3 468.7,379.3 L504,379.3" fill="none" stroke="#333" stroke-width="0.8"/>
<circle cx="505.6" cy="379.3" r="1.6" fill="#fff" stroke="#333" stroke-width="0.75"/>
<text x="508.5" y="382.6" font-size="10.2" text-anchor="start" fill="#2a2a2a" font-weight="normal" stroke="#2a2a2a" stroke-width="0.25" >3</text>
<polyline points="504,395.4 490.4,395.4 490.4,402.9" stroke="#333" stroke-width="0.8" fill="none" />
<circle cx="505.6" cy="395.4" r="1.6" fill="#fff" stroke="#333" stroke-width="0.75"/>
<text x="508.5" y="400.2" font-size="10.2" text-anchor="start" fill="#2a2a2a" font-weight="normal" stroke="#2a2a2a" stroke-width="0.25" >6</text>
<polygon points="489.2,399.4 491.6,399.4 490.4,403.2" fill="#222" stroke="none" stroke-width="0.8" />
<polyline points="479.6,402.6 481.6,399.8 483.6,402.9 504,402.9" stroke="#333" stroke-width="0.8" fill="none" />
<circle cx="505.6" cy="402.9" r="1.6" fill="#fff" stroke="#333" stroke-width="0.75"/>
<text x="508.5" y="407.4" font-size="10.2" text-anchor="start" fill="#2a2a2a" font-weight="normal" stroke="#2a2a2a" stroke-width="0.25" >2</text>
<rect x="530.4" y="387.4" width="4.2" height="16.5" fill="#fff" stroke="#333" stroke-width="0.8"/>
<polyline points="532.5,403.9 532.5,409.3 570.5,409.3" stroke="#333" stroke-width="0.8" fill="none" />
<circle cx="572.1" cy="409.3" r="1.6" fill="#fff" stroke="#333" stroke-width="0.75"/>
<text x="575.0" y="414.1" font-size="10.2" text-anchor="start" fill="#2a2a2a" font-weight="normal" stroke="#2a2a2a" stroke-width="0.25" >4</text>
<polyline points="570.5,393.9 557.9,393.9 557.9,401.8" stroke="#333" stroke-width="0.8" fill="none" />
<circle cx="572.1" cy="393.9" r="1.6" fill="#fff" stroke="#333" stroke-width="0.75"/>
<text x="575.0" y="398.7" font-size="10.2" text-anchor="start" fill="#2a2a2a" font-weight="normal" stroke="#2a2a2a" stroke-width="0.25" >6</text>
<polygon points="556.7,398.3 559.1,398.3 557.9,402.0" fill="#222" stroke="none" stroke-width="0.8" />
<polyline points="546.7,401.5 548.7,398.7 550.7,401.8 570.5,401.8" stroke="#333" stroke-width="0.8" fill="none" />
<circle cx="572.1" cy="401.8" r="1.6" fill="#fff" stroke="#333" stroke-width="0.75"/>
<text x="575.0" y="406.6" font-size="10.2" text-anchor="start" fill="#2a2a2a" font-weight="normal" stroke="#2a2a2a" stroke-width="0.25" >2</text>
</svg>
</body></html>
